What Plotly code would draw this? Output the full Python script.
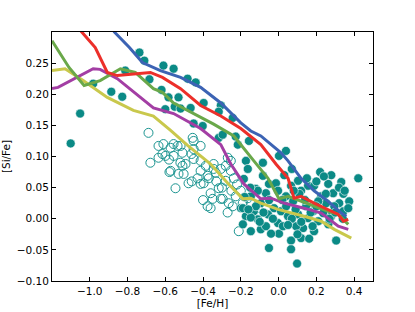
import plotly.graph_objects as go

# ---- data ----
filled_feh = [-1.101, -1.051, -0.982, -0.886, -0.828, -0.812, -0.737, -0.711, -0.684, -0.610,
              -0.556, -0.620, -0.583, -0.530, -0.550, -0.600, -0.519, -0.482, -0.439, -0.466,
              -0.450, -0.402, -0.397, -0.306, -0.317, -0.243, -0.317, -0.296, -0.227, -0.216,
              -0.157, 0.039, 0.002, -0.173, -0.083, -0.163, -0.184, -0.200, -0.173, -0.189,
              -0.094, -0.051, -0.014, -0.067, -0.003, -0.094, -0.131, -0.056, -0.024, 0.013,
              0.050, 0.103, -0.003, 0.002, -0.051, 0.066, 0.066, 0.119, 0.162, 0.130,
              0.156, 0.210, 0.263, 0.305, 0.188, 0.098, 0.103, 0.156, 0.188, 0.263,
              0.279, 0.332, 0.422, 0.226, 0.289, 0.343, 0.321, 0.374, 0.343, 0.369,
              0.295, 0.252, -0.147, -0.120, 0.039, 0.077, 0.146, 0.023, -0.067, 0.183,
              0.236, 0.093, -0.110, -0.040, -0.147, 0.279, 0.210, 0.119, 0.066, -0.083,
              -0.110, -0.189, -0.147,
              -0.150, -0.120, -0.080, -0.050, -0.030, -0.100, -0.180, -0.160, 0.020, 0.040,
              0.070, 0.090, 0.110, 0.140, 0.170, 0.200, 0.080, 0.050, 0.120, 0.150,
              0.200, 0.220, 0.030, 0.070, 0.180, 0.100, 0.250, 0.270, 0.300, 0.320,
              0.350, 0.240, 0.340]
filled_sife = [0.121, 0.169, 0.217, 0.204, 0.196, 0.238, 0.267, 0.254, 0.224, 0.246,
               0.241, 0.207, 0.195, 0.195, 0.180, 0.176, 0.177, 0.225, 0.219, 0.178,
               0.153, 0.149, 0.186, 0.182, 0.172, 0.162, 0.130, 0.135, 0.132, 0.119,
               0.125, 0.109, 0.101, 0.093, 0.090, 0.080, 0.064, 0.017, 0.004, -0.009,
               -0.017, 0.056, 0.057, 0.041, 0.045, 0.025, 0.012, 0.007, 0.017, 0.012,
               0.004, 0.007, -0.007, -0.024, -0.047, -0.035, -0.049, -0.031, -0.032, -0.015,
               0.001, -0.004, -0.009, -0.035, -0.020, -0.072, 0.061, 0.053, 0.053, 0.056,
               0.070, 0.059, 0.065, 0.036, 0.041, 0.040, 0.025, 0.028, 0.012, 0.017,
               0.020, 0.025, 0.036, 0.048, 0.036, 0.028, 0.020, -0.012, -0.012, 0.012,
               0.009, -0.012, -0.001, -0.024, -0.020, 0.004, 0.028, 0.045, 0.053, 0.069,
               0.045, 0.017, 0.002,
               0.050, 0.020, 0.010, 0.030, 0.000, -0.005, 0.035, 0.015, 0.030, 0.020,
               0.000, 0.015, 0.040, 0.030, 0.010, 0.020, 0.045, -0.010, -0.005, 0.065,
               0.060, 0.075, 0.070, 0.080, -0.012, -0.025, 0.040, 0.000, 0.010, 0.050,
               0.045, 0.068, 0.000]

open_feh = [-0.689, -0.636, -0.610, -0.572, -0.535, -0.509, -0.450, -0.413, -0.615, -0.679,
            -0.636, -0.599, -0.556, -0.450, -0.509, -0.493, -0.572, -0.530, -0.477, -0.546,
            -0.413, -0.429, -0.397, -0.370, -0.344, -0.333, -0.280, -0.253, -0.237, -0.280,
            -0.317, -0.360, -0.349, -0.296, -0.264, -0.360, -0.227, -0.211, -0.243, -0.163,
            -0.147, -0.110, -0.200, -0.413, -0.269, -0.253, -0.450, -0.376, -0.578, -0.503,
            -0.413, -0.386, -0.306, -0.376, -0.344, -0.306, -0.556, -0.519, -0.455, -0.461,
            -0.300, -0.250, -0.330, -0.220, -0.270, -0.190, -0.400, -0.460, -0.520, -0.580]
open_sife = [0.138, 0.117, 0.120, 0.114, 0.117, 0.106, 0.125, 0.117, 0.104, 0.090,
             0.098, 0.101, 0.101, 0.112, 0.085, 0.088, 0.077, 0.072, 0.057, 0.049,
             0.077, 0.065, 0.057, 0.065, 0.088, 0.074, 0.085, 0.077, 0.065, 0.061,
             0.049, 0.041, 0.032, 0.032, 0.025, 0.017, 0.036, -0.020, 0.020, 0.033,
             0.024, 0.017, 0.045, 0.093, 0.098, 0.093, 0.096, 0.020, 0.075, 0.072,
             0.056, 0.085, 0.080, 0.069, 0.080, 0.032, 0.120, 0.117, 0.130, 0.104,
             0.050, 0.045, 0.060, 0.055, 0.010, 0.025, 0.030, 0.060, 0.090, 0.095]

blue_x = [-0.885, -0.870, -0.790, -0.721, -0.626, -0.519, -0.413, -0.306, -0.200, -0.147,
          -0.094, -0.040, 0.013, 0.050, 0.119, 0.188, 0.263, 0.332, 0.359]
blue_y = [0.310, 0.300, 0.275, 0.251, 0.238, 0.227, 0.211, 0.186, 0.154, 0.141,
          0.133, 0.120, 0.106, 0.093, 0.065, 0.045, 0.028, 0.009, 0.004]

red_x = [-1.065, -1.051, -0.971, -0.907, -0.854, -0.758, -0.679, -0.615, -0.519, -0.413,
         -0.306, -0.200, -0.094, -0.014, 0.050, 0.082, 0.119, 0.188, 0.263, 0.316, 0.343, 0.369]
red_y = [0.312, 0.303, 0.275, 0.235, 0.230, 0.233, 0.235, 0.227, 0.209, 0.182,
         0.165, 0.145, 0.119, 0.088, 0.065, 0.033, 0.036, 0.025, 0.015, 0.007, -0.004, -0.001]

green_x = [-1.200, -1.110, -1.030, -0.945, -0.838, -0.759, -0.663, -0.615, -0.556, -0.450,
           -0.344, -0.237, -0.163, -0.131, -0.056, 0.002, 0.050, 0.119, 0.188, 0.263, 0.316, 0.369]
green_y = [0.286, 0.243, 0.214, 0.222, 0.241, 0.235, 0.209, 0.203, 0.186, 0.169,
           0.152, 0.133, 0.106, 0.093, 0.065, 0.032, 0.036, 0.028, 0.020, 0.012, 0.007, -0.009]

magenta_x = [-1.200, -1.168, -0.982, -0.945, -0.854, -0.663, -0.556, -0.413, -0.306, -0.253,
             -0.184, -0.094, -0.040, 0.029, 0.135, 0.226, 0.316, 0.369]
magenta_y = [0.209, 0.211, 0.241, 0.240, 0.225, 0.178, 0.169, 0.145, 0.119, 0.088,
             0.056, 0.032, 0.033, 0.025, 0.017, 0.009, -0.012, -0.017]

yellow_x = [-1.200, -1.131, -1.035, -0.907, -0.769, -0.663, -0.572, -0.482, -0.360, -0.269,
            -0.189, -0.147, -0.094, -0.003, 0.135, 0.226, 0.295, 0.385]
yellow_y = [0.238, 0.241, 0.222, 0.195, 0.174, 0.165, 0.142, 0.118, 0.088, 0.057,
            0.032, 0.033, 0.025, 0.015, 0.004, -0.004, -0.017, -0.031]

x_ticks = [-1.0, -0.8, -0.6, -0.4, -0.2, 0.0, 0.2, 0.4]
y_ticks = [-0.10, -0.05, 0.00, 0.05, 0.10, 0.15, 0.20, 0.25]

TEAL = "#0b8a86"

fig = go.Figure()
fig.add_trace(go.Scatter(x=open_feh, y=open_sife, mode="markers",
                         marker=dict(size=9, color="rgba(0,0,0,0)",
                                     line=dict(color="#1a9490", width=1)),
                         hoverinfo="skip"))
fig.add_trace(go.Scatter(x=filled_feh, y=filled_sife, mode="markers",
                         marker=dict(size=9, color=TEAL,
                                     line=dict(color="white", width=0.6)),
                         hoverinfo="skip"))
for xs, ys, col in [(yellow_x, yellow_y, "#c9c84c"),
                    (magenta_x, magenta_y, "#a33ea4"),
                    (green_x, green_y, "#6aa84a"),
                    (red_x, red_y, "#ec2f2a"),
                    (blue_x, blue_y, "#3c63b4")]:
    fig.add_trace(go.Scatter(x=xs, y=ys, mode="lines",
                             line=dict(color=col, width=3), hoverinfo="skip"))

axis_common = dict(showline=True, linecolor="black", linewidth=1, mirror="ticks",
                   ticks="inside", ticklen=4, tickwidth=1, tickcolor="black",
                   showgrid=False, zeroline=False, automargin=False,
                   tickfont=dict(family="DejaVu Sans", size=10.5, color="black"))

fig.update_layout(
    width=415, height=312,
    margin=dict(l=52, r=42, t=32, b=31, pad=0),
    paper_bgcolor="white", plot_bgcolor="white",
    showlegend=False,
    font=dict(family="DejaVu Sans", size=10.5, color="black"),
    xaxis=dict(range=[-1.2, 0.5], tickvals=x_ticks, tickformat=".1f",
               title=dict(text="[Fe/H]", standoff=3,
                          font=dict(family="DejaVu Sans", size=10.5)),
               **axis_common),
    yaxis=dict(range=[-0.10, 0.30], tickvals=y_ticks, tickformat=".2f",
               title=dict(text="[Si/Fe]", standoff=4,
                          font=dict(family="DejaVu Sans", size=10.5)),
               **axis_common),
)

fig.write_html("out.html", config={"displayModeBar": False},
               post_script="document.body.style.margin='0px';")
